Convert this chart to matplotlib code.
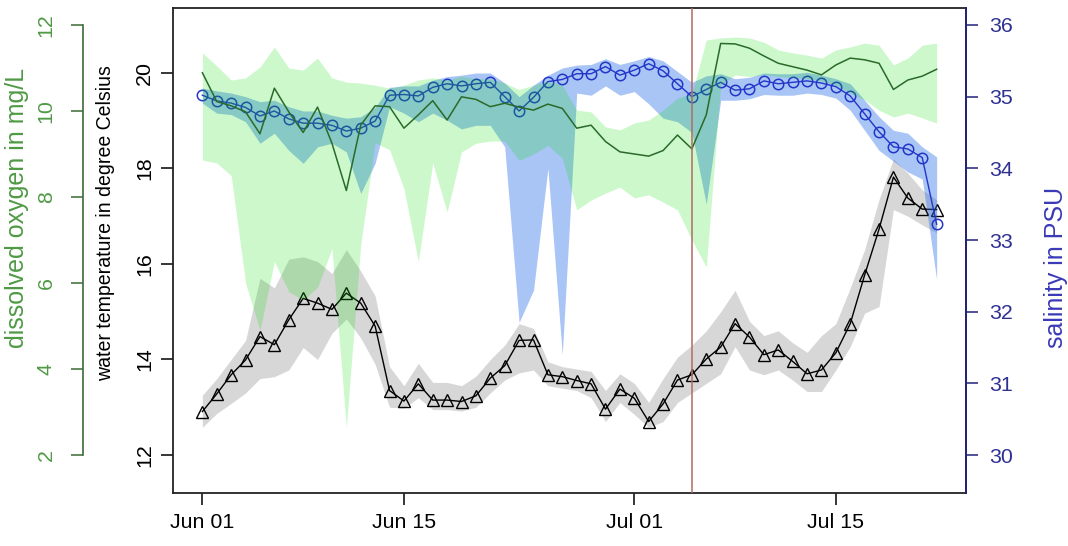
import matplotlib
matplotlib.use("Agg")
import matplotlib.pyplot as plt
from matplotlib import font_manager
import pandas as pd

# daily series, Jun 01 - Jul 22
dates = pd.date_range("2017-06-01", periods=52, freq="D")
tick_dates = pd.to_datetime(["2017-06-01", "2017-06-15", "2017-07-01", "2017-07-15"])
tick_labels = ["Jun 01", "Jun 15", "Jul 01", "Jul 15"]
event_date = pd.Timestamp("2017-07-05")

# water temperature (degree Celsius)
temp = [12.91, 13.28, 13.68, 13.99, 14.48, 14.31, 14.83, 15.28, 15.18, 15.05,
        15.39, 15.18, 14.70, 13.35, 13.13, 13.49, 13.15, 13.15, 13.12, 13.24,
        13.61, 13.87, 14.40, 14.41, 13.68, 13.64, 13.56, 13.49, 12.96, 13.38,
        13.19, 12.70, 13.07, 13.57, 13.68, 14.01, 14.26, 14.75, 14.47, 14.10,
        14.20, 13.96, 13.70, 13.78, 14.14, 14.75, 15.77, 16.73, 17.82, 17.38,
        17.15, 17.14]
temp_lo = [12.58, 12.87, 13.08, 13.30, 13.60, 13.64, 13.78, 14.25, 14.00, 14.55,
           14.85, 14.45, 13.90, 13.00, 12.98, 13.20, 12.95, 12.95, 12.92, 13.00,
           13.30, 13.57, 13.72, 13.78, 13.45, 13.40, 13.35, 13.20, 12.70, 13.10,
           12.85, 12.58, 12.70, 13.10, 13.30, 13.50, 13.70, 14.27, 13.78, 13.68,
           13.78, 13.57, 13.33, 13.33, 13.78, 14.27, 14.97, 15.11, 17.14, 17.00,
           16.82, 16.65]
temp_hi = [13.25, 13.60, 14.00, 14.40, 15.70, 15.50, 16.10, 16.15, 16.05, 15.80,
           16.30, 15.85, 15.33, 13.85, 13.45, 13.92, 13.52, 13.52, 13.45, 13.65,
           14.00, 14.30, 14.75, 14.65, 13.95, 13.85, 13.80, 13.75, 13.35, 13.70,
           13.50, 13.10, 13.60, 14.05, 14.30, 14.60, 15.00, 15.45, 14.80, 14.50,
           14.60, 14.35, 14.15, 14.50, 14.75, 15.50, 16.30, 17.35, 18.20, 17.90,
           17.55, 17.35]

# salinity (PSU)
sal = [35.02, 34.94, 34.91, 34.85, 34.73, 34.80, 34.69, 34.63, 34.63, 34.60,
       34.52, 34.56, 34.66, 35.02, 35.03, 35.01, 35.13, 35.18, 35.15, 35.18,
       35.20, 35.00, 34.80, 34.99, 35.21, 35.24, 35.32, 35.32, 35.42, 35.30,
       35.37, 35.46, 35.36, 35.18, 35.00, 35.10, 35.20, 35.09, 35.11, 35.22,
       35.18, 35.20, 35.22, 35.19, 35.14, 35.01, 34.76, 34.51, 34.30, 34.27,
       34.15, 33.22]
sal_lo = [34.91, 34.77, 34.75, 34.65, 34.35, 34.49, 34.25, 34.07, 34.30, 34.35,
          34.23, 33.65, 34.07, 34.86, 34.77, 34.65, 34.77, 34.67, 34.55, 34.60,
          34.60, 34.30, 31.85, 32.30, 34.00, 31.40, 35.05, 35.02, 35.15, 35.02,
          35.07, 34.90, 34.70, 34.65, 34.50, 33.50, 34.95, 34.95, 34.97, 35.03,
          35.02, 35.02, 35.05, 35.03, 34.98, 34.81, 34.53, 34.25, 34.10, 33.95,
          33.85, 32.45]
sal_hi = [35.12, 35.08, 35.05, 35.00, 34.93, 34.95, 34.86, 34.80, 34.80, 34.74,
          34.70, 34.72, 34.85, 35.13, 35.15, 35.15, 35.23, 35.28, 35.30, 35.33,
          35.33, 35.19, 35.00, 35.16, 35.30, 35.40, 35.44, 35.45, 35.53, 35.45,
          35.50, 35.56, 35.50, 35.35, 35.20, 35.29, 35.32, 35.25, 35.27, 35.33,
          35.32, 35.32, 35.34, 35.30, 35.25, 35.18, 34.95, 34.72, 34.53, 34.49,
          34.30, 34.16]

# dissolved oxygen (mg/L)
oxy = [10.89, 10.22, 10.12, 9.98, 9.47, 10.53, 9.98, 9.50, 10.09, 9.25,
       8.15, 9.67, 10.12, 10.10, 9.60, 9.91, 10.24, 9.79, 10.33, 10.27,
       10.10, 10.18, 10.09, 10.02, 10.16, 10.06, 9.60, 9.67, 9.29, 9.05,
       9.00, 8.95, 9.08, 9.44, 9.12, 9.91, 11.57, 11.56, 11.46, 11.28,
       11.11, 11.03, 10.95, 10.84, 11.07, 11.23, 11.19, 11.11, 10.50, 10.72,
       10.81, 10.97]
oxy_lo = [8.86, 8.79, 8.50, 6.00, 4.90, 6.50, 5.80, 5.60, 5.90, 6.80,
          2.65, 6.90, 9.26, 9.10, 8.20, 6.50, 8.79, 7.65, 9.05, 9.25,
          9.30, 9.30, 8.85, 9.00, 9.20, 8.90, 7.70, 7.93, 8.09, 8.23,
          7.98, 8.05, 7.88, 7.70, 7.00, 6.37, 10.60, 10.84, 10.80, 10.85,
          10.80, 10.78, 10.75, 10.70, 10.60, 10.42, 10.26, 10.02, 9.86, 9.95,
          9.84, 9.72]
oxy_hi = [11.35, 11.05, 10.72, 10.77, 11.02, 11.49, 11.00, 10.95, 11.23, 10.77,
          10.67, 10.65, 10.60, 10.53, 10.60, 10.72, 10.77, 10.72, 10.81, 10.75,
          10.75, 10.65, 10.50, 10.60, 10.70, 10.60, 10.02, 9.98, 9.63, 9.56,
          9.72, 9.79, 10.02, 10.30, 10.40, 11.65, 11.70, 11.72, 11.70, 11.60,
          11.42, 11.35, 11.30, 11.23, 11.42, 11.49, 11.58, 11.53, 11.07, 11.23,
          11.53, 11.58]

# narrow sans if the machine has it, else regular sans a bit smaller
_installed = {f.name for f in font_manager.fontManager.ttflist}
if 'Liberation Sans Narrow' in _installed:
    NARROW = ['Liberation Sans Narrow', 'DejaVu Sans']
    K = 1.0
else:
    NARROW = ['Liberation Sans', 'DejaVu Sans']
    K = 0.88
REGULAR = ['Liberation Sans', 'DejaVu Sans']
plt.rcParams['font.family'] = NARROW

GREEN_TXT = '#4f9a45'
GREEN_AX = '#3b6b36'
BLUE_TXT = '#3a3ab8'
BLUE_AX = '#22227a'
TICK_FS = 17.5 * K
TICK_LEN = 8.6

fig = plt.figure(figsize=(10.68, 5.46), dpi=100)
ax = fig.add_axes([173 / 1068, 1 - 493 / 546, 793 / 1068, 485 / 546])

# temperature
ax.fill_between(dates, temp_lo, temp_hi, color='#7f7f7f', alpha=0.31, lw=0)
ax.plot(dates, temp, color='black', lw=1, marker='^', ms=9, mfc='none',
        mec='black', mew=1)
ax.set_ylim(11.204, 21.361)
ax.set_yticks([12, 14, 16, 18, 20])
ax.set_xlim(dates[0] - pd.Timedelta(days=2.04), dates[-1] + pd.Timedelta(days=2.04))
ax.set_xticks(tick_dates)
ax.set_xticklabels(tick_labels)
ax.tick_params(axis='both', length=TICK_LEN, width=1.1, labelsize=TICK_FS)
ax.tick_params(axis='x', pad=6)
ax.tick_params(axis='y', labelrotation=90, pad=5)
for lab in ax.get_yticklabels():
    lab.set_va('center')
for sp in ax.spines.values():
    sp.set_linewidth(1.3)
    sp.set_color('#222222')

# salinity
ax_sal = ax.twinx()
ax_sal.fill_between(dates, sal_lo, sal_hi, color='#2a6fe8', alpha=0.4, lw=0)
ax_sal.plot(dates, sal, color='#2236c8', lw=1, marker='o', ms=7.5, mfc='none',
            mec='#2236c8', mew=1.1)
ax_sal.set_ylim(29.47, 36.237)
ax_sal.set_yticks([30, 31, 32, 33, 34, 35, 36])
for name in ['left', 'top', 'bottom']:
    ax_sal.spines[name].set_visible(False)
ax_sal.spines['right'].set_color(BLUE_AX)
ax_sal.spines['right'].set_linewidth(1.3)
ax_sal.tick_params(axis='y', length=TICK_LEN, width=1.1, colors=BLUE_AX,
                   labelcolor='#2e3192', labelsize=TICK_FS, pad=8)

# dissolved oxygen
ax_do = ax.twinx()
ax_do.fill_between(dates, oxy_lo, oxy_hi, color='#00dd00', alpha=0.2, lw=0)
ax_do.plot(dates, oxy, color='#2a6a2a', lw=1.1)
ax_do.set_ylim(1.116, 12.395)
ax_do.set_yticks([2, 4, 6, 8, 10, 12])
for name in ['right', 'top', 'bottom']:
    ax_do.spines[name].set_visible(False)
ax_do.spines['left'].set_visible(True)
ax_do.spines['left'].set_position(('outward', 64.8))
ax_do.spines['left'].set_bounds(2, 12)
ax_do.spines['left'].set_color(GREEN_AX)
ax_do.spines['left'].set_linewidth(1.2)
ax_do.yaxis.set_ticks_position('left')
ax_do.tick_params(axis='y', length=TICK_LEN, width=1.1, colors=GREEN_AX,
                  labelcolor=GREEN_TXT, labelsize=TICK_FS, labelrotation=90, pad=11)
for lab in ax_do.get_yticklabels():
    lab.set_va('center')

ax_do.axvline(event_date, color='#b36a66', lw=1.1)

fig.text(17 / 1068, 1 - 208 / 546, 'dissolved oxygen in mg/L', rotation=90,
         ha='center', va='center', color=GREEN_TXT, fontsize=18,
         family=REGULAR)
fig.text(106 / 1068, 1 - 223 / 546, 'water temperature in degree Celsius',
         rotation=90, ha='center', va='center', color='black', fontsize=16 * K)
fig.text(1056 / 1068, 1 - 267 / 546, 'salinity in PSU', rotation=90,
         ha='center', va='center', color=BLUE_TXT, fontsize=18,
         family=REGULAR)

fig.savefig('out.png', dpi=100)
